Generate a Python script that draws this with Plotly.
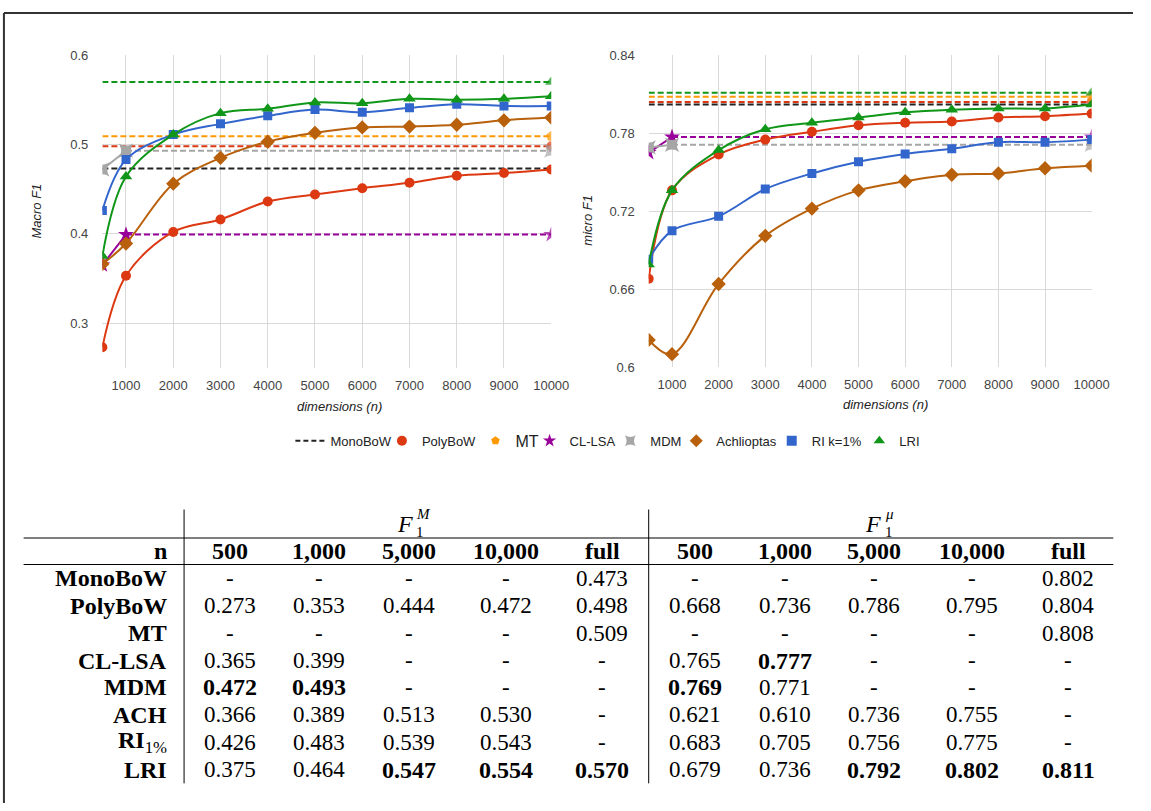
import plotly.graph_objects as go

# ---------------- data ----------------
dims = [500, 1000, 2000, 3000, 4000, 5000, 6000, 7000, 8000, 9000, 10000]
dim_ticks = [1000, 2000, 3000, 4000, 5000, 6000, 7000, 8000, 9000, 10000]
dim_ticktext = ["1000", "2000", "3000", "4000", "5000", "6000", "7000", "8000", "9000", "10000"]

series_names = ["MonoBoW", "PolyBoW", "MT", "CL-LSA", "MDM", "Achlioptas", "RI k=1%", "LRI"]

# Macro F1 curves
macro_polybow = [0.273, 0.353, 0.402, 0.416, 0.436, 0.444, 0.451, 0.457, 0.465, 0.468, 0.472]
macro_ach = [0.366, 0.389, 0.456, 0.485, 0.503, 0.513, 0.519, 0.520, 0.522, 0.527, 0.530]
macro_ri = [0.426, 0.483, 0.511, 0.523, 0.532, 0.539, 0.536, 0.541, 0.545, 0.543, 0.543]
macro_lri = [0.375, 0.464, 0.511, 0.535, 0.540, 0.547, 0.546, 0.551, 0.550, 0.551, 0.554]
macro_cllsa = [0.365, 0.399]
macro_mdm = [0.472, 0.493]
macro_full = {"MonoBoW": 0.473, "PolyBoW": 0.498, "MT": 0.509, "LRI": 0.570}

# micro F1 curves
micro_polybow = [0.668, 0.736, 0.7635, 0.775, 0.781, 0.786, 0.788, 0.789, 0.792, 0.793, 0.795]
micro_ach = [0.621, 0.610, 0.664, 0.701, 0.722, 0.736, 0.743, 0.748, 0.749, 0.753, 0.755]
micro_ri = [0.683, 0.705, 0.716, 0.737, 0.749, 0.758, 0.764, 0.768, 0.773, 0.773, 0.775]
micro_lri = [0.679, 0.736, 0.767, 0.783, 0.788, 0.792, 0.796, 0.798, 0.799, 0.799, 0.802]
micro_cllsa = [0.765, 0.777]
micro_mdm = [0.769, 0.771]
micro_full = {"MonoBoW": 0.802, "PolyBoW": 0.804, "MT": 0.808, "LRI": 0.811}

macro_yticks = [0.3, 0.4, 0.5, 0.6]
macro_ytext = ["0.3", "0.4", "0.5", "0.6"]
micro_yticks = [0.6, 0.66, 0.72, 0.78, 0.84]
micro_ytext = ["0.6", "0.66", "0.72", "0.78", "0.84"]

# table
table_cols = ["500", "1,000", "5,000", "10,000", "full"]
table_rows = ["MonoBoW", "PolyBoW", "MT", "CL-LSA", "MDM", "ACH", "RI<sub>1%</sub>", "LRI"]
table_macro = [
    [None, None, None, None, 0.473],
    [0.273, 0.353, 0.444, 0.472, 0.498],
    [None, None, None, None, 0.509],
    [0.365, 0.399, None, None, None],
    [0.472, 0.493, None, None, None],
    [0.366, 0.389, 0.513, 0.530, None],
    [0.426, 0.483, 0.539, 0.543, None],
    [0.375, 0.464, 0.547, 0.554, 0.570],
]
table_micro = [
    [None, None, None, None, 0.802],
    [0.668, 0.736, 0.786, 0.795, 0.804],
    [None, None, None, None, 0.808],
    [0.765, 0.777, None, None, None],
    [0.769, 0.771, None, None, None],
    [0.621, 0.610, 0.736, 0.755, None],
    [0.683, 0.705, 0.756, 0.775, None],
    [0.679, 0.736, 0.792, 0.802, 0.811],
]

# ---------------- style ----------------
W, H = 1151, 811
def px(x):
    return x / W
def py(y):
    return 1 - y / H

colors = {
    "MonoBoW": "#222222", "PolyBoW": "#dc3912", "MT": "#ff9900", "CL-LSA": "#990099",
    "MDM": "#a6a6a6", "Achlioptas": "#b8600b", "RI k=1%": "#3366cc", "LRI": "#109618",
}
symbols = {
    "PolyBoW": "circle", "MT": "pentagon", "CL-LSA": "star", "MDM": "star-square",
    "Achlioptas": "diamond", "RI k=1%": "square", "LRI": "triangle-up",
}
msize = {"PolyBoW": 10, "MT": 11, "CL-LSA": 12, "MDM": 13, "Achlioptas": 11, "RI k=1%": 9, "LRI": 11}
DASH = "6px,3px"
LW = 2

fig = go.Figure()

def add_chart(xa, ya, curves, cllsa, mdm, full):
    for name in ["MonoBoW", "PolyBoW", "MT", "LRI"]:
        v = full[name]
        has_m = name != "MonoBoW"
        fig.add_trace(go.Scatter(
            x=[dims[0], dims[-1]], y=[v, v], xaxis=xa, yaxis=ya,
            mode="lines+markers" if has_m else "lines",
            line=dict(color=colors[name], width=LW, dash=DASH),
            marker=dict(symbol=symbols.get(name, "circle"), size=[0, msize.get(name, 8)],
                        color=colors[name], line=dict(width=0)),
            showlegend=False, hoverinfo="skip"))
    for name, vals in [("CL-LSA", cllsa), ("MDM", mdm)]:
        fig.add_trace(go.Scatter(
            x=dims[:2], y=vals, xaxis=xa, yaxis=ya, mode="lines+markers",
            line=dict(color=colors[name], width=LW),
            marker=dict(symbol=symbols[name], size=msize[name], color=colors[name], line=dict(width=0)),
            showlegend=False))
        fig.add_trace(go.Scatter(
            x=[dims[1], dims[-1]], y=[vals[1], vals[1]], xaxis=xa, yaxis=ya,
            mode="lines+markers",
            line=dict(color=colors[name], width=LW, dash=DASH),
            marker=dict(symbol=symbols[name], size=[0, msize[name]], color=colors[name], line=dict(width=0)),
            showlegend=False))
    for name, vals in curves:
        fig.add_trace(go.Scatter(
            x=dims, y=vals, xaxis=xa, yaxis=ya, mode="lines+markers",
            line=dict(color=colors[name], width=LW, shape="spline", smoothing=1.0),
            marker=dict(symbol=symbols[name], size=msize[name], color=colors[name], line=dict(width=0)),
            showlegend=False))

add_chart("x", "y",
          [("PolyBoW", macro_polybow), ("Achlioptas", macro_ach), ("RI k=1%", macro_ri), ("LRI", macro_lri)],
          macro_cllsa, macro_mdm, macro_full)
add_chart("x2", "y2",
          [("PolyBoW", micro_polybow), ("Achlioptas", micro_ach), ("RI k=1%", micro_ri), ("LRI", micro_lri)],
          micro_cllsa, micro_mdm, micro_full)

# ---------------- legend (one legend per entry, to place them freely) ----------------
legend_text_x = [330, 423, 518, 573, 655, 722, 819, 908]
legend_y = 442
layout_legends = {}
for i, name in enumerate(series_names):
    key = "legend" if i == 0 else "legend%d" % (i + 1)
    if name == "MonoBoW":
        tr = go.Scatter(x=[None], y=[None], mode="lines", name=name,
                        line=dict(color=colors[name], width=LW, dash="5px,3px"), legend=key)
    else:
        tr = go.Scatter(x=[None], y=[None], mode="markers", name=name,
                        marker=dict(symbol=symbols[name], size=10 if name != "MT" else 9,
                                    color=colors[name], line=dict(width=0)), legend=key)
    fig.add_trace(tr)
    layout_legends[key] = dict(
        x=px(legend_text_x[i] - 35), y=py(legend_y), xanchor="left", yanchor="middle",
        bgcolor="rgba(0,0,0,0)", itemwidth=30, tracegroupgap=0,
        font=dict(family="Liberation Sans, Arial, sans-serif", size=16 if name == "MT" else 13,
                  color="#222222"))

# ---------------- axes ----------------
tickfont = dict(family="Liberation Sans, Arial, sans-serif", size=13, color="#444444")
grid = "#d9d9d9"
common_x = dict(range=[dims[0], dims[-1]], tickvals=dim_ticks, ticktext=dim_ticktext, showgrid=True,
                gridcolor=grid, gridwidth=1, zeroline=False, showline=False, tickfont=tickfont,
                ticks="", ticklabelstandoff=8, fixedrange=True)
common_y = dict(showgrid=True, gridcolor=grid, gridwidth=1, zeroline=False, showline=False,
                tickfont=tickfont, ticks="", ticklabelstandoff=13, fixedrange=True)

fig.update_layout(
    autosize=True, margin=dict(l=0, r=0, t=0, b=0, pad=0),
    paper_bgcolor="white", plot_bgcolor="white",
    xaxis=dict(domain=[px(104), px(560)], anchor="y", **common_x),
    yaxis=dict(domain=[py(367.5), py(49)], anchor="x", range=[0.25, 0.6],
               tickvals=macro_yticks, ticktext=macro_ytext, **common_y),
    xaxis2=dict(domain=[px(659), px(1109)], anchor="y2", **common_x),
    yaxis2=dict(domain=[py(367), py(49)], anchor="x2", range=[0.6, 0.84],
                tickvals=micro_yticks, ticktext=micro_ytext, **common_y),
    **layout_legends,
)

annotations = []
shapes = []
title_font = dict(family="Liberation Sans, Arial, sans-serif", size=13, color="#222222")
for x, y, t, ang in [(345, 407, "<i>dimensions (n)</i>", 0), (900, 405, "<i>dimensions (n)</i>", 0),
                     (37, 208, "<i>Macro F1</i>", -90), (597, 217, "<i>micro F1</i>", -90)]:
    annotations.append(dict(x=px(x), y=py(y), xref="paper", yref="paper", text=t, showarrow=False,
                            xanchor="center", yanchor="middle", textangle=ang, font=title_font))

# ---------------- table ----------------
serif = "Liberation Serif, Times New Roman, serif"
col_x_macro = [234, 324, 416, 514, 612]
col_x_micro = [706, 797, 888, 987, 1085]
row_y = [582, 610, 638, 666, 693, 721, 749, 777]
header_y = 554
label_right = 172

def ann(x, y, text, anchor="center", size=23):
    annotations.append(dict(x=px(x), y=py(y), xref="paper", yref="paper", text=text,
                            showarrow=False, xanchor=anchor, yanchor="middle",
                            font=dict(family=serif, size=size, color="black")))

for fx, sup in [(411, "M"), (887, "μ")]:
    ann(fx, 527, "<i>F</i>", size=24)
    ann(fx + 10, 535, "1", anchor="left", size=15)
    ann(fx + 10, 517, "<i>%s</i>" % sup, anchor="left", size=15)

ann(label_right, header_y, "<b>n</b>", anchor="right", size=24)
for cx_list in (col_x_macro, col_x_micro):
    for cx, lab in zip(cx_list, table_cols):
        ann(cx, header_y, "<b>%s</b>" % lab, size=24)

for r, lab in enumerate(table_rows):
    if "<sub>" in lab:
        base, sub = lab.split("<sub>")
        ann(label_right, row_y[r], "<b>%s</b><sub>%s" % (base, sub), anchor="right", size=24)
    else:
        ann(label_right, row_y[r], "<b>%s</b>" % lab, anchor="right", size=24)

for data, cx_list in ((table_macro, col_x_macro), (table_micro, col_x_micro)):
    for c in range(len(table_cols)):
        colvals = [row[c] for row in data if row[c] is not None]
        best = max(colvals)
        for r, row in enumerate(data):
            v = row[c]
            if v is None:
                ann(cx_list[c], row_y[r], "-")
            else:
                s = "%.3f" % v
                if v == best:
                    ann(cx_list[c], row_y[r], "<b>%s</b>" % s, size=24)
                else:
                    ann(cx_list[c], row_y[r], s)

line_k = dict(color="black", width=1.2)
shapes.append(dict(type="line", xref="paper", yref="paper", x0=px(24), x1=px(1131),
                   y0=py(541), y1=py(541), line=line_k))
shapes.append(dict(type="line", xref="paper", yref="paper", x0=px(24), x1=px(1131),
                   y0=py(568), y1=py(568), line=line_k))
for vx in (187, 659):
    shapes.append(dict(type="line", xref="paper", yref="paper", x0=px(vx), x1=px(vx),
                       y0=py(512), y1=py(791), line=dict(color="black", width=1)))

# outer frame (top and left)
frame = dict(color="#333333", width=2)
shapes.append(dict(type="line", xref="paper", yref="paper", x0=px(4), x1=1, y0=py(6), y1=py(6), line=frame))
shapes.append(dict(type="line", xref="paper", yref="paper", x0=px(4), x1=px(4), y0=py(6), y1=0, line=frame))

fig.update_layout(annotations=annotations, shapes=shapes)

# the figure div fills the browser viewport, pinned to its corner
fig.write_html("out.html", config={"displayModeBar": False},
               default_width="100vw",
               default_height="100vh;position:absolute;left:0;top:0")
